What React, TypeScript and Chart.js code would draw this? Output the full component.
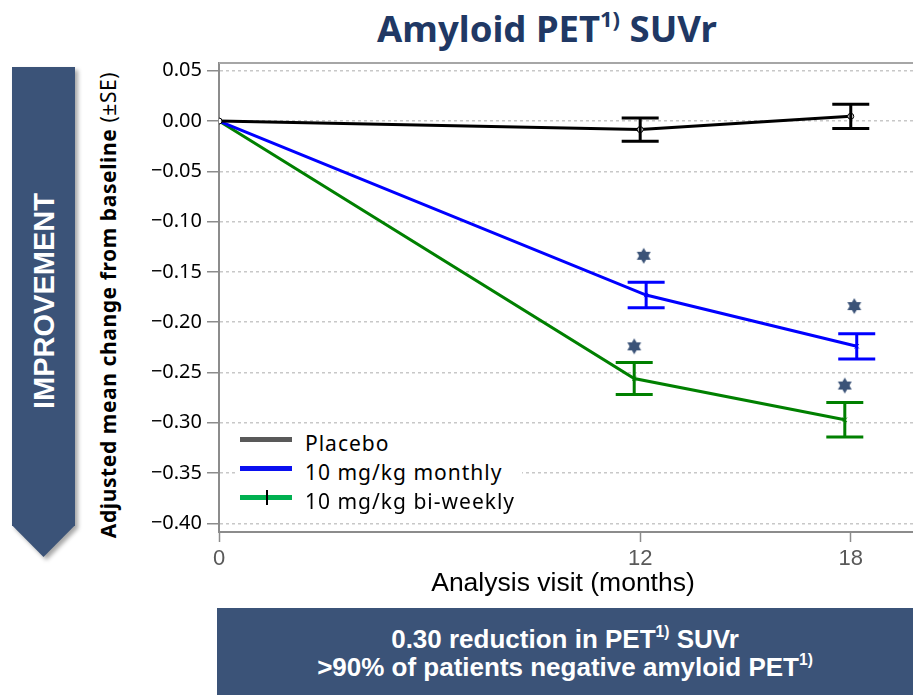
import React, { useEffect, useRef } from "react";
import { Chart, registerables } from "chart.js";

Chart.register(...registerables);

// ---------- data ----------
const visits = [0, 12, 18];
const placeboMean = [0, -0.0085, 0.0047];
const placeboSE = [0, 0.0115, 0.012];
const monthlyMean = [0, -0.173, -0.224];
const monthlySE = [0, 0.0126, 0.0126];
const biweeklyMean = [0, -0.256, -0.297];
const biweeklySE = [0, 0.0158, 0.0171];
const starVisits = [12, 18];
const monthlyStars = [-0.134, -0.184];
const biweeklyStars = [-0.224, -0.263];
const yTicks = [0.05, 0, -0.05, -0.1, -0.15, -0.2, -0.25, -0.3, -0.35, -0.4];
const xTicks = [0, 12, 18];
const seriesLabels = ["Placebo", "10 mg/kg monthly", "10 mg/kg bi-weekly"];

// ---------- styling ----------
const NAVY = "#3b5378";
const CAL = "'Noto Sans', 'Open Sans', sans-serif";
const NARROW = "'Liberation Sans Narrow', 'Liberation Sans', Arial, sans-serif";
const DODGE = [0, 0.17, -0.17];
const STAR_DODGE = [0, 0.1, -0.17];
const LINE_COLORS = ["#000000", "#0000ff", "#008000"];
const LEGEND_COLORS = ["#595959", "#0a10f0", "#00b050"];
const CANVAS_W = 925;

function pts(xs: number[], ys: number[], dodge: number) {
  return xs.map((x, i) => ({ x: x === 0 ? 0 : x + dodge, y: ys[i] }));
}

function makeStar(): HTMLCanvasElement {
  const c = document.createElement("canvas");
  c.width = 18;
  c.height = 18;
  const g = c.getContext("2d")!;
  g.fillStyle = NAVY;
  const cx = 9, cy = 9, r = 8;
  const tri = (start: number) => {
    g.beginPath();
    for (let k = 0; k < 3; k++) {
      const a = ((start + k * 120) * Math.PI) / 180;
      const px = cx + r * Math.cos(a), py = cy + r * Math.sin(a);
      if (k === 0) g.moveTo(px, py); else g.lineTo(px, py);
    }
    g.closePath();
    g.fill();
  };
  tri(-90);
  tri(90);
  return c;
}

const errorBarPlugin = {
  id: "errorBars",
  afterDatasetsDraw(chart: any) {
    const { ctx, scales, chartArea } = chart;
    const xs = scales.x, ys = scales.y;
    ctx.save();
    ctx.strokeStyle = "#a6a6a6";
    ctx.lineWidth = 2;
    ctx.beginPath();
    ctx.moveTo(chartArea.left, chartArea.top);
    ctx.lineTo(chartArea.right + 2, chartArea.top);
    ctx.stroke();
    const groups = [
      [placeboMean, placeboSE],
      [monthlyMean, monthlySE],
      [biweeklyMean, biweeklySE],
    ];
    groups.forEach(([m, se], gi) => {
      ctx.strokeStyle = LINE_COLORS[gi];
      ctx.lineWidth = 3;
      visits.forEach((v, i) => {
        if (!se[i]) return;
        const px = xs.getPixelForValue(v + DODGE[gi]);
        const top = ys.getPixelForValue(m[i] + se[i]);
        const bot = ys.getPixelForValue(m[i] - se[i]);
        ctx.beginPath();
        ctx.moveTo(px, top);
        ctx.lineTo(px, bot);
        ctx.moveTo(px - 18.5, top);
        ctx.lineTo(px + 18.5, top);
        ctx.moveTo(px - 18.5, bot);
        ctx.lineTo(px + 18.5, bot);
        ctx.stroke();
      });
    });
    ctx.restore();
  },
};

function ChartCanvas() {
  const ref = useRef<HTMLCanvasElement | null>(null);
  useEffect(() => {
    if (!ref.current) return;
    const star = makeStar();
    const fmt = (v: number) => (v < -1e-9 ? "\u2212" + Math.abs(v).toFixed(2) : Math.abs(v).toFixed(2));
    const chart = new Chart(ref.current, {
      type: "scatter",
      data: {
        datasets: [
          {
            label: seriesLabels[0],
            data: pts(visits, placeboMean, DODGE[0]),
            showLine: true,
            borderColor: LINE_COLORS[0],
            backgroundColor: "#ffffff",
            borderWidth: 3,
            pointRadius: 3,
            pointBorderWidth: 1,
            pointStyle: "circle",
          },
          {
            label: seriesLabels[1],
            data: pts(visits, monthlyMean, DODGE[1]),
            showLine: true,
            borderColor: LINE_COLORS[1],
            backgroundColor: LINE_COLORS[1],
            borderWidth: 3,
            pointRadius: 3,
            pointBorderWidth: 1,
            pointStyle: "crossRot",
          },
          {
            label: seriesLabels[2],
            data: pts(visits, biweeklyMean, DODGE[2]),
            showLine: true,
            borderColor: LINE_COLORS[2],
            backgroundColor: LINE_COLORS[2],
            borderWidth: 3,
            pointRadius: 3,
            pointBorderWidth: 1,
            pointStyle: "crossRot",
          },
          {
            label: "sig monthly",
            data: pts(starVisits, monthlyStars, STAR_DODGE[1]),
            showLine: false,
            pointStyle: star as any,
            pointRadius: 9,
          },
          {
            label: "sig bi-weekly",
            data: pts(starVisits, biweeklyStars, STAR_DODGE[2]),
            showLine: false,
            pointStyle: star as any,
            pointRadius: 9,
          },
        ],
      },
      options: {
        responsive: false,
        animation: false,
        layout: { padding: { left: 139, top: 63, right: 0, bottom: 123 } },
        plugins: {
          legend: { display: false },
          tooltip: { enabled: false },
        },
        scales: {
          x: {
            type: "linear",
            min: 0,
            max: 19.83,
            afterBuildTicks: (s: any) => {
              s.ticks = xTicks.map((v) => ({ value: v }));
            },
            afterFit: (s: any) => {
              s.height = 40;
            },
            grid: {
              drawOnChartArea: false,
              drawTicks: true,
              tickLength: 10,
              tickColor: "#8c8c8c",
              tickWidth: 1.5,
            },
            border: { color: "#8c8c8c", width: 2 },
            ticks: {
              color: "#595959",
              font: { family: NARROW, size: 22 },
              padding: 4,
              maxRotation: 0,
              autoSkip: false,
              callback: (v: any) => String(v),
            },
          },
          y: {
            min: -0.4086,
            max: 0.0577,
            afterBuildTicks: (s: any) => {
              s.ticks = yTicks.map((v) => ({ value: v }));
            },
            afterFit: (s: any) => {
              s.width = 80;
            },
            grid: {
              color: "#c8c8c8",
              lineWidth: 1.5,
              drawTicks: true,
              tickLength: 12,
              tickColor: "#8c8c8c",
              tickWidth: 1.5,
              tickBorderDash: [],
            },
            border: { color: "#8c8c8c", width: 2, dash: [3, 3] },
            ticks: {
              color: "#000000",
              font: { family: CAL, size: 20 },
              padding: 5,
              autoSkip: false,
              callback: (v: any) => fmt(Number(v)),
            },
          },
        },
      },
      plugins: [errorBarPlugin],
    } as any);
    return () => chart.destroy();
  }, []);
  return (
    <canvas
      ref={ref}
      width={CANVAS_W}
      height={695}
      style={{ position: "absolute", left: 0, top: 0, width: CANVAS_W, height: 695 }}
    />
  );
}

export default function App() {
  useEffect(() => {
    document.body.style.margin = "0";
    document.body.style.overflow = "hidden";
  }, []);
  const sup: React.CSSProperties = { fontSize: "0.6em", verticalAlign: "0.7em", lineHeight: 0 };
  return (
    <div
      style={{
        position: "absolute",
        left: 0,
        top: 0,
        width: 913,
        height: 695,
        background: "#ffffff",
        overflow: "hidden",
        fontFamily: CAL,
      }}
    >
      {/* Title */}
      <div
        style={{
          position: "absolute",
          left: 300,
          width: 494,
          top: 4,
          textAlign: "center",
          fontFamily: CAL,
          fontWeight: 700,
          fontSize: 36.5,
          lineHeight: "48px",
          color: "#203864",
          whiteSpace: "nowrap",
        }}
      >
        Amyloid PET<span style={sup}>1)</span> SUVr
      </div>

      {/* Improvement banner */}
      <div style={{ position: "absolute", left: 0, top: 0, filter: "drop-shadow(3px 3px 2px rgba(0,0,0,0.35))" }}>
        <div
          style={{
            position: "absolute",
            left: 12,
            top: 67,
            width: 63,
            height: 490,
            background: NAVY,
            clipPath: "polygon(0 0, 100% 0, 100% 93.5%, 50% 100%, 0 93.5%)",
          }}
        />
      </div>
      <div
        style={{
          position: "absolute",
          left: 44,
          top: 301,
          transform: "translate(-50%, -50%) rotate(-90deg)",
          color: "#ffffff",
          fontFamily: "'Liberation Sans', Arial, sans-serif",
          fontWeight: 700,
          fontSize: 29,
          whiteSpace: "nowrap",
        }}
      >
        IMPROVEMENT
      </div>

      {/* Y axis title */}
      <div
        style={{
          position: "absolute",
          left: 108,
          top: 305,
          transform: "translate(-50%, -50%) rotate(-90deg)",
          color: "#000000",
          fontFamily: CAL,
          fontSize: 21,
          letterSpacing: 0.6,
          whiteSpace: "nowrap",
        }}
      >
        <span style={{ fontWeight: 700 }}>Adjusted mean change from baseline</span>{" "}
        <span style={{ fontWeight: 400 }}>(±SE)</span>
      </div>

      <ChartCanvas />

      {/* Legend */}
      <div
        style={{
          position: "absolute",
          left: 237,
          top: 427,
          width: 285,
          height: 86,
          background: "#ffffff",
        }}
      >
        {seriesLabels.map((lab, i) => (
          <div key={lab} style={{ position: "absolute", left: 0, top: i * 29, height: 29, width: 285 }}>
            <div
              style={{
                position: "absolute",
                left: 3,
                top: 10,
                width: 52,
                height: 5,
                background: LEGEND_COLORS[i],
              }}
            />
            {i === 2 && (
              <div
                style={{
                  position: "absolute",
                  left: 28.5,
                  top: 5,
                  width: 2,
                  height: 15,
                  background: "#000",
                }}
              />
            )}
            <div
              style={{
                position: "absolute",
                left: 68,
                top: 1,
                fontFamily: CAL,
                fontSize: 21,
                letterSpacing: 1,
                lineHeight: "30px",
                color: "#000",
                whiteSpace: "nowrap",
              }}
            >
              {lab}
            </div>
          </div>
        ))}
      </div>

      {/* X axis title */}
      <div
        style={{
          position: "absolute",
          left: 363,
          width: 400,
          top: 566,
          textAlign: "center",
          fontFamily: NARROW,
          fontSize: 26.5,
          lineHeight: "32px",
          color: "#000",
          whiteSpace: "nowrap",
        }}
      >
        Analysis visit (months)
      </div>

      {/* Bottom box */}
      <div
        style={{
          position: "absolute",
          left: 217,
          top: 608,
          width: 696,
          height: 87,
          background: NAVY,
          color: "#ffffff",
          fontFamily: NARROW,
          fontWeight: 700,
          fontSize: 26,
          lineHeight: "28px",
          textAlign: "center",
          paddingTop: 17,
          boxSizing: "border-box",
          whiteSpace: "nowrap",
        }}
      >
        <div>
          0.30 reduction in PET<span style={sup}>1)</span> SUVr
        </div>
        <div>
          &gt;90% of patients negative amyloid PET<span style={sup}>1)</span>
        </div>
      </div>
    </div>
  );
}
